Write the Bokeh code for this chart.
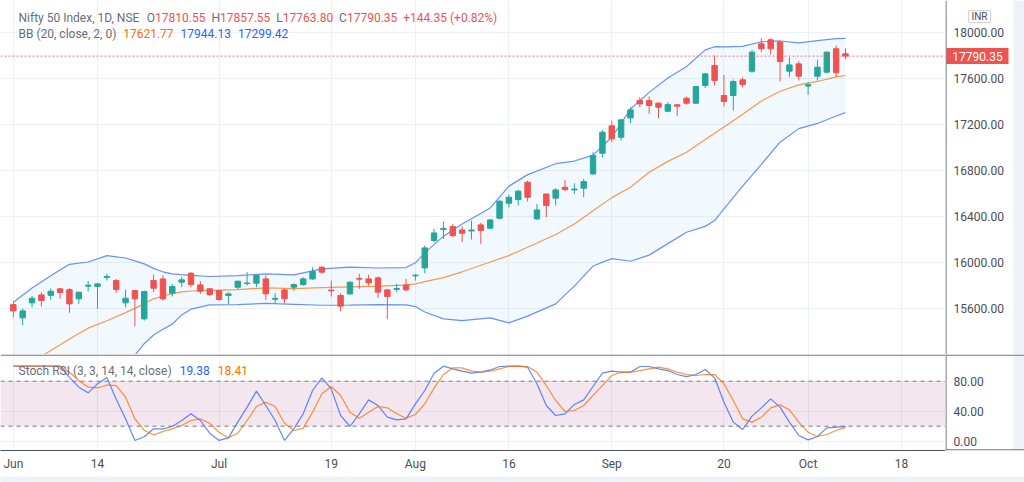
from bokeh.plotting import figure
from bokeh.layouts import column, row
from bokeh.models import (ColumnDataSource, Range1d, FixedTicker, Span, BoxAnnotation, Label)
from bokeh.core.properties import value
from bokeh.embed import file_html
from bokeh.resources import INLINE

# ---------------- data ----------------
opens = [15630, 15515, 15645, 15714, 15711, 15767, 15760, 15680, 15790, 15787,
         15866, 15839, 15645, 15752, 15506, 15839, 15853, 15729, 15825, 15903,
         15801, 15767, 15752, 15709, 15781, 15813, 15816, 15853, 15676, 15758,
         15781, 15804, 15853, 15955, 15756, 15709, 15723, 15857, 15853, 15862,
         15758, 15762, 15801, 15880, 15949, 16187, 16283, 16308, 16279, 16270,
         16323, 16294, 16381, 16511, 16543, 16694, 16375, 16592, 16555, 16650,
         16627, 16642, 16766, 16946, 17184, 17085, 17253, 17404, 17404, 17381,
         17311, 17367, 17424, 17381, 17535, 17709, 17448, 17448, 17584, 17659,
         17897, 17932, 17912, 17659, 17723, 17530, 17616, 17651, 17854, 17810.55]
highs = [15655, 15595, 15705, 15738, 15770, 15775, 15773, 15740, 15835, 15816,
         15897, 15853, 15760, 15755, 15752, 15891, 15883, 15810, 15868, 15912,
         15833, 15775, 15755, 15738, 15840, 15912, 15890, 15883, 15729, 15767,
         15815, 15868, 15955, 15963, 15839, 15729, 15832, 15897, 15890, 15874,
         15767, 15810, 15853, 15895, 16143, 16288, 16352, 16332, 16308, 16360,
         16340, 16375, 16535, 16587, 16627, 16708, 16505, 16592, 16642, 16714,
         16685, 16723, 16955, 17149, 17230, 17245, 17346, 17433, 17439, 17390,
         17390, 17375, 17439, 17532, 17645, 17796, 17627, 17587, 17607, 17845,
         17946, 17945, 17926, 17781, 17746, 17564, 17758, 17830, 17883, 17857.55]
lows = [15520, 15450, 15607, 15613, 15671, 15680, 15558, 15636, 15745, 15593,
        15839, 15732, 15607, 15442, 15491, 15738, 15665, 15700, 15781, 15781,
        15723, 15705, 15665, 15636, 15760, 15796, 15781, 15671, 15636, 15640,
        15750, 15795, 15845, 15897, 15700, 15572, 15715, 15767, 15795, 15688,
        15506, 15738, 15746, 15838, 15902, 16172, 16201, 16216, 16172, 16195,
        16158, 16285, 16370, 16476, 16491, 16526, 16366, 16389, 16491, 16616,
        16592, 16563, 16758, 16911, 17042, 17056, 17207, 17346, 17288, 17251,
        17303, 17268, 17369, 17375, 17512, 17535, 17352, 17317, 17520, 17645,
        17825, 17804, 17572, 17607, 17578, 17454, 17578, 17640, 17607, 17763.80]
closes = [15575, 15575, 15685, 15665, 15746, 15735, 15636, 15738, 15799, 15810,
          15874, 15761, 15685, 15680, 15743, 15772, 15680, 15787, 15845, 15804,
          15746, 15716, 15674, 15723, 15833, 15818, 15883, 15723, 15684, 15680,
          15804, 15853, 15917, 15912, 15750, 15616, 15825, 15851, 15819, 15738,
          15700, 15770, 15758, 15886, 16123, 16253, 16292, 16230, 16250, 16278,
          16274, 16366, 16529, 16563, 16616, 16563, 16453, 16491, 16627, 16630,
          16634, 16700, 16926, 17129, 17071, 17236, 17323, 17375, 17361, 17346,
          17369, 17355, 17381, 17526, 17636, 17578, 17396, 17569, 17543, 17825,
          17854, 17854, 17743, 17714, 17616, 17542, 17694, 17825, 17646.00, 17790.35]

bb_idx = [0, 2, 4, 6, 8, 10, 12, 13, 14, 15, 16, 17, 18, 19, 21, 24, 27, 30, 33, 36,
          39, 42, 43, 44, 46, 48, 51, 53, 55, 58, 60, 62, 64, 66, 68, 70, 72, 74, 75,
          76, 78, 80, 82, 84, 86, 88, 89]
bb_upper = [15650, 15775, 15880, 15980, 16000, 16056, 16035, 16010, 15984, 15945,
            15915, 15897, 15890, 15884, 15874, 15882, 15897, 15889, 15940, 15955,
            15948, 15952, 15993, 16080, 16225, 16330, 16470, 16660, 16760, 16855,
            16878, 16930, 17085, 17330, 17475, 17600, 17700, 17845, 17872, 17870,
            17875, 17915, 17922, 17905, 17925, 17942, 17944.13]
bb_basis = [15040, 15135, 15230, 15330, 15425, 15490, 15560, 15597, 15640, 15680,
            15705, 15725, 15740, 15748, 15753, 15760, 15776, 15768, 15778, 15784,
            15790, 15800, 15810, 15830, 15865, 15915, 16000, 16056, 16129, 16240,
            16330, 16445, 16560, 16650, 16780, 16875, 16955, 17065, 17120, 17175,
            17285, 17400, 17485, 17540, 17570, 17610, 17621.77]
bb_lower = [14430, 14495, 14580, 14680, 14850, 14924, 15085, 15190, 15290, 15365,
            15415, 15460, 15540, 15590, 15628, 15630, 15640, 15632, 15624, 15626,
            15630, 15628, 15613, 15565, 15506, 15491, 15515, 15471, 15530, 15636,
            15790, 15965, 16030, 16007, 16060, 16160, 16259, 16310, 16361, 16463,
            16660, 16850, 17042, 17160, 17205, 17270, 17299.42]

k_line = [100, 100, 100, 100, 100, 100, 85, 72, 64.5, 76.5,
          85, 56, 30, 1, 6, 16.5, 16.5, 19.6, 27.6, 36.5,
          27.6, 10.7, 1, 4.5, 25.4, 45.4, 66.7, 47.6, 27.6, 1,
          16.5, 36.5, 67.6, 84.5, 69.8, 34.3, 19.6, 36.5, 55.1, 47.6,
          32, 28.5, 29.8, 49.8, 67.6, 90.7, 100, 96.5, 93.4, 90.7,
          92, 95, 99.6, 100, 100, 98.7, 76.5, 47.6, 34.3, 36.5,
          49, 55.1, 72.9, 90.7, 93.4, 92, 92, 99.6, 99.6, 96.5,
          94.2, 88.9, 86.2, 88.9, 95.6, 84.5, 52, 25.4, 15.6, 33.4,
          44.5, 56.5, 45.4, 25.4, 7.6, 1.8, 6.3, 17.8, 18.7, 19.38]
d_line = [100, 100, 100, 100, 100, 100, 92, 81, 72, 71,
          75, 74, 58.7, 29.8, 14.3, 8.5, 12.9, 16.5, 20.9, 27.6,
          29.8, 24, 12, 4.5, 10.7, 27.6, 46.3, 52, 46.3, 24,
          14.3, 17.4, 38.7, 63.2, 72.9, 61, 38.7, 30.7, 38.7, 46.3,
          44.5, 36.5, 30.7, 35.6, 49.8, 71, 88.9, 97.8, 97.8, 93.4,
          92, 93.4, 96.5, 99.6, 100, 99.6, 92, 74.2, 54.3, 39.6,
          40.9, 47.6, 61, 74.2, 87.6, 92, 92, 94.2, 96.5, 98.7,
          96.5, 92, 88.9, 87.6, 88.9, 88.9, 76.5, 54.3, 29.8, 25.4,
          32, 44.5, 48.5, 41.8, 25.4, 12, 6.3, 8.9, 14.3, 18.41]

price_ticks = [15600, 16000, 16400, 16800, 17200, 17600, 18000]
rsi_ticks = [0, 40, 80]
rsi_bands = [20, 80]
xtick_idx = [0, 9, 22, 34, 43, 53, 64, 76, 85, 95]
xtick_labels = ["Jun", "14", "Jul", "19", "Aug", "16", "Sep", "20", "Oct", "18"]

title_text = "Nifty 50 Index, 1D, NSE"
bb_text = "BB (20, close, 2, 0)"
stoch_text = "Stoch RSI (3, 3, 14, 14, close)"
currency = "INR"

# ---------------- styles / geometry ----------------
UP, DOWN = "#26a69a", "#ef5350"
BLUE, ORANGE = "#2962ff", "#ff6d00"
GRID = "#edf1f7"
AXIS = "#50535e"
LBL = "#4a4d57"
LEG = "#6a6d78"
STRIP = "#eef1f6"
FONT = "Roboto"

FRAME_W = 945          # plot area width (page px)
SIDE_W = 79            # price-scale column incl. outer strip
H_TOP = 354
H_BOT = 119
B_BOT = 23
X0, X1 = -1.3743, 99.695
Y0, Y1 = 15196.0, 18273.9
R0, R1 = -12.4, 115.6
SX0, SX1 = -0.5, SIDE_W - 0.5


def px2x(px):
    return X0 + px * (X1 - X0) / FRAME_W


def py2price(py):
    return Y1 - py * (Y1 - Y0) / H_TOP


def py2rsi(py):
    return R1 - (py - H_TOP) * (R1 - R0) / (H_BOT - B_BOT)


PPX = (Y1 - Y0) / H_TOP      # price units per pixel
RPX = (R1 - R0) / (H_BOT - B_BOT)

CW = {'.': 0.263, ',': 0.196, ' ': 0.248, '(': 0.342, ')': 0.348, '+': 0.567,
      '%': 0.733, '-': 0.276, 'N': 0.713, 'i': 0.243, 'f': 0.347, 't': 0.327,
      'y': 0.473, 'I': 0.272, 'n': 0.551, 'd': 0.560, 'e': 0.529, 'x': 0.495,
      'D': 0.654, 'S': 0.593, 'E': 0.567, 'O': 0.686, 'H': 0.713, 'L': 0.538,
      'C': 0.652, 'B': 0.622, 'c': 0.524, 'l': 0.242, 'o': 0.570, 's': 0.516,
      'h': 0.551, 'R': 0.616}


def tw(s, fs=12):
    return sum(CW.get(ch, 0.562) for ch in s) * fs


def put_segments(fig, segs, x_px, y_data):
    x = x_px
    for text, color, gap in segs:
        fig.add_layout(Label(x=px2x(x), y=y_data, text=text, text_color=color,
                             text_font=FONT, text_font_size="12px",
                             text_baseline="middle", text_align="left"))
        x += tw(text) + gap


def plain(fig):
    fig.outline_line_color = None
    fig.background_fill_color = "white"
    fig.border_fill_color = "white"
    fig.grid.visible = False


idx = list(range(len(closes)))
colors = [UP if c >= o else DOWN for o, c in zip(opens, closes)]
src = ColumnDataSource(dict(
    x=idx, top=[max(o, c) for o, c in zip(opens, closes)],
    bottom=[min(o, c) for o, c in zip(opens, closes)],
    high=highs, low=lows, color=colors))

xr = Range1d(X0, X1)
yr_price = Range1d(Y0, Y1)
yr_rsi = Range1d(R0, R1)

# ---------------- main pane ----------------
p1 = figure(width=FRAME_W, height=H_TOP, x_range=xr, y_range=yr_price,
            output_backend="svg", toolbar_location=None, x_axis_location=None,
            y_axis_location=None, min_border=0)
p1.outline_line_color = None
p1.background_fill_color = "white"
p1.border_fill_color = "white"
p1.ygrid.ticker = FixedTicker(ticks=price_ticks)
p1.ygrid.grid_line_color = GRID
p1.xgrid.ticker = FixedTicker(ticks=xtick_idx)
p1.xgrid.grid_line_color = GRID

p1.varea(x=bb_idx, y1=bb_lower, y2=bb_upper, fill_color="#2196f3", fill_alpha=0.06)
p1.line(bb_idx, bb_upper, line_color=BLUE, line_alpha=0.7, line_width=1.2)
p1.line(bb_idx, bb_lower, line_color=BLUE, line_alpha=0.7, line_width=1.2)
p1.line(bb_idx, bb_basis, line_color=ORANGE, line_alpha=0.7, line_width=1.2)

p1.segment(x0="x", y0="high", x1="x", y1="low", line_color="color", line_width=1, source=src)
p1.vbar(x="x", top="top", bottom="bottom", width=0.58, fill_color="color",
        line_color="color", line_width=1, source=src)

p1.add_layout(Span(location=closes[-1], dimension="width", line_color=DOWN,
                   line_dash="2 2", line_width=1, line_alpha=0.8))

chg = closes[-1] - closes[-2]
pct = chg / closes[-2] * 100
put_segments(p1, [
    (title_text, LEG, 7),
    ("O", LEG, 0), (f"{opens[-1]:.2f}", DOWN, 6),
    ("H", LEG, 0), (f"{highs[-1]:.2f}", DOWN, 6),
    ("L", LEG, 0), (f"{lows[-1]:.2f}", DOWN, 6),
    ("C", LEG, 0), (f"{closes[-1]:.2f}", DOWN, 6),
    (f"{chg:+.2f} ({pct:+.2f}%)", DOWN, 0),
], 18, py2price(17))
put_segments(p1, [
    (bb_text, LEG, 7),
    (f"{bb_basis[-1]:.2f}", ORANGE, 7),
    (f"{bb_upper[-1]:.2f}", BLUE, 7),
    (f"{bb_lower[-1]:.2f}", BLUE, 0),
], 18, py2price(33))

# ---------------- price scale column ----------------
pa = figure(width=SIDE_W, height=H_TOP, x_range=Range1d(SX0, SX1), y_range=yr_price,
            output_backend="svg", toolbar_location=None, x_axis_location=None,
            y_axis_location=None, min_border=0)
plain(pa)
pa.quad(left=SIDE_W - 11.5, right=SX1, bottom=Y0, top=Y1, fill_color=STRIP, line_color=None)
pa.add_layout(Span(location=0, dimension="height", line_color=AXIS, line_width=1))
pa.text(x=7.5, y=price_ticks, text=[f"{t:.2f}" for t in price_ticks],
        text_font=value(FONT), text_font_size="12px", text_color=LBL,
        text_baseline="middle", text_align="left")
pa.quad(left=0.5, right=62.5, bottom=closes[-1] - 8 * PPX, top=closes[-1] + 8 * PPX,
        fill_color=DOWN, line_color=None)
pa.text(x=31.5, y=[closes[-1]], text=[f"{closes[-1]:.2f}"], text_font=value(FONT),
        text_font_size="12px", text_color="white", text_baseline="middle",
        text_align="center")
pa.quad(left=22.5, right=44.5, bottom=py2price(22), top=py2price(10),
        fill_color="white", line_color="#d1d4dc", line_width=1)
pa.text(x=33.5, y=[py2price(16.3)], text=[currency], text_font=value(FONT),
        text_font_size="10px", text_color=LBL, text_baseline="middle", text_align="center")

# ---------------- Stoch RSI pane ----------------
p2 = figure(width=FRAME_W, height=H_BOT, x_range=xr, y_range=yr_rsi,
            output_backend="svg", toolbar_location=None, y_axis_location=None,
            min_border_left=0, min_border_right=0, min_border_top=0,
            min_border_bottom=B_BOT)
p2.outline_line_color = None
p2.background_fill_color = "white"
p2.border_fill_color = "white"
p2.ygrid.ticker = FixedTicker(ticks=rsi_ticks)
p2.ygrid.grid_line_color = GRID
p2.xgrid.ticker = FixedTicker(ticks=xtick_idx)
p2.xgrid.grid_line_color = GRID
p2.xaxis.ticker = FixedTicker(ticks=xtick_idx)
p2.xaxis.major_label_overrides = {t: l for t, l in zip(xtick_idx, xtick_labels)}
p2.xaxis.axis_line_color = AXIS
p2.xaxis.major_tick_line_color = None
p2.xaxis.minor_tick_line_color = None
p2.xaxis.major_tick_out = 0
p2.xaxis.major_tick_in = 0
p2.xaxis.minor_tick_out = 0
p2.xaxis.major_label_text_font = FONT
p2.xaxis.major_label_text_font_size = "12px"
p2.xaxis.major_label_text_color = LBL
p2.xaxis.major_label_standoff = 6

p2.add_layout(BoxAnnotation(bottom=rsi_bands[0], top=rsi_bands[1], fill_color="#880555",
                            fill_alpha=0.1, line_alpha=0, level="underlay"))
for b in rsi_bands:
    p2.add_layout(Span(location=b, dimension="width", line_color="#787b86",
                       line_dash="4 4", line_width=1))
p2.add_layout(Span(location=R1 - 0.6 * RPX, dimension="width", line_color=AXIS, line_width=1))

p2.line(idx, k_line, line_color=BLUE, line_alpha=0.75, line_width=1.2)
p2.line(idx, d_line, line_color=ORANGE, line_alpha=0.75, line_width=1.2)

put_segments(p2, [
    (stoch_text, LEG, 8),
    (f"{k_line[-1]:.2f}", BLUE, 8),
    (f"{d_line[-1]:.2f}", ORANGE, 0),
], 18, py2rsi(370))

# ---------------- Stoch RSI scale column (frame aligned with p2) ----------------
pb = figure(width=SIDE_W, height=H_BOT, x_range=Range1d(SX0, SX1), y_range=yr_rsi,
            output_backend="svg", toolbar_location=None, x_axis_location=None,
            y_axis_location=None, min_border_left=0, min_border_right=0,
            min_border_top=0, min_border_bottom=B_BOT)
plain(pb)
pb.quad(left=SIDE_W - 11.5, right=SX1, bottom=R0, top=R1, fill_color=STRIP, line_color=None)
pb.add_layout(Span(location=0, dimension="height", line_color=AXIS, line_width=1))
pb.add_layout(Span(location=R1 - 0.6 * RPX, dimension="width", line_color=AXIS, line_width=1))
pb.add_layout(Span(location=R0 + 0.6 * RPX, dimension="width", line_color=AXIS, line_width=1))
pb.text(x=7.5, y=rsi_ticks, text=[f"{t:.2f}" for t in rsi_ticks],
        text_font=value(FONT), text_font_size="12px", text_color=LBL,
        text_baseline="middle", text_align="left")

# ---------------- bottom strip ----------------
strip = figure(width=FRAME_W + SIDE_W, height=9, output_backend="svg", toolbar_location=None,
               x_axis_location=None, y_axis_location=None, min_border=0,
               x_range=Range1d(0, 1), y_range=Range1d(0, 1))
plain(strip)
strip.background_fill_color = STRIP
strip.border_fill_color = STRIP
strip.quad(left=0, right=1, bottom=0, top=1, fill_color=STRIP, line_color=None)

layout = column(row(p1, pa), row(p2, pb), strip)
open("out.html", "w").write(file_html(layout, INLINE))
